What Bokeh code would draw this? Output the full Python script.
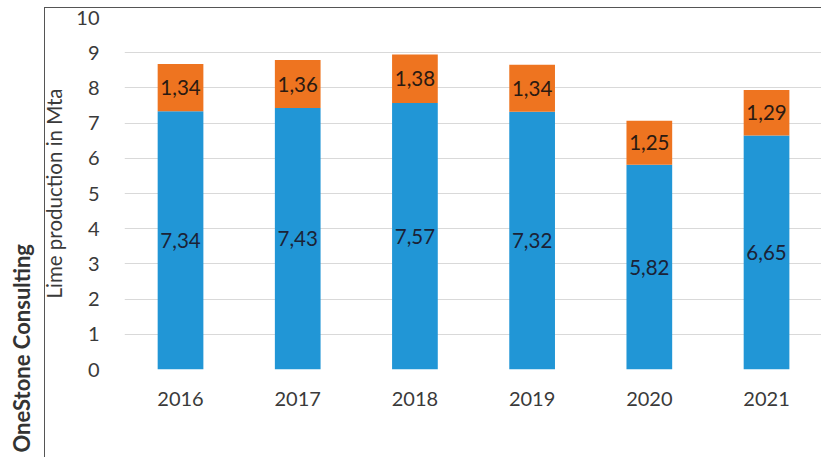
from bokeh.plotting import figure
from bokeh.models import (ColumnDataSource, FixedTicker, Title, InlineStyleSheet,
                          Legend, LegendItem, Range1d)
from bokeh.core.properties import value
from bokeh.embed import file_html
from bokeh.resources import INLINE

# Lime production in Germany, million tonnes per year
years = ["2016", "2017", "2018", "2019", "2020", "2021"]
quicklime = [7.34, 7.43, 7.57, 7.32, 5.82, 6.65]
hydrated_lime = [1.34, 1.36, 1.38, 1.34, 1.25, 1.29]
y_ticks = [0, 1, 2, 3, 4, 5, 6, 7, 8, 9, 10]

FONT = "Lato"
BLUE = "#2196d6"
ORANGE = "#ee7420"
TEXT = "#3a3a3a"


def fmt(v):
    return f"{v:.2f}".replace(".", ",")


x = list(range(len(years)))
src = ColumnDataSource(dict(
    x=x,
    q=quicklime,
    h=hydrated_lime,
    top=[q + h for q, h in zip(quicklime, hydrated_lime)],
    q_mid=[q / 2 for q in quicklime],
    h_mid=[q + h / 2 for q, h in zip(quicklime, hydrated_lime)],
    q_lab=[fmt(v) for v in quicklime],
    h_lab=[fmt(v) for v in hydrated_lime],
))

p = figure(frame_width=697, frame_height=352, height=457,
           output_backend="svg", toolbar_location=None,
           x_range=Range1d(-0.478, 5.469), y_range=Range1d(0, 10),
           min_border_left=121, min_border_right=0,
           min_border_top=17, min_border_bottom=0)
p.outline_line_color = None
p.background_fill_color = "white"
p.border_fill_color = "white"

BAR_W = 0.39
r_q = p.vbar(x="x", width=BAR_W, bottom=0, top="q", source=src,
             fill_color=BLUE, line_color=None)
r_h = p.vbar(x="x", width=BAR_W, bottom="q", top="top", source=src,
             fill_color=ORANGE, line_color=None)

for ycol, tcol, col in (("q_mid", "q_lab", "#1b2236"), ("h_mid", "h_lab", "#2a1a12")):
    p.text(x="x", y=ycol, text=tcol, source=src, text_align="center",
           text_baseline="middle", text_font=value(FONT),
           text_font_size="20.5px", text_color=col)

# axes
p.xaxis.axis_label = None
p.xaxis.ticker = FixedTicker(ticks=x)
p.xaxis.major_label_overrides = {i: y for i, y in enumerate(years)}
p.xaxis.axis_line_color = None
p.xaxis.major_tick_line_color = None
p.xaxis.minor_tick_line_color = None
p.xaxis.major_label_text_font = FONT
p.xaxis.major_label_text_font_size = "20px"
p.xaxis.major_label_text_color = TEXT
p.xaxis.major_label_standoff = 16

p.yaxis.ticker = FixedTicker(ticks=y_ticks)
p.yaxis.axis_line_color = None
p.yaxis.major_tick_line_color = None
p.yaxis.minor_tick_line_color = None
p.yaxis.major_label_text_font = FONT
p.yaxis.major_label_text_font_size = "20px"
p.yaxis.major_label_text_color = TEXT
p.yaxis.major_label_standoff = 19
p.yaxis.axis_label = "Lime production in Mta"
p.yaxis.axis_label_text_font = FONT
p.yaxis.axis_label_text_font_size = "20.5px"
p.yaxis.axis_label_text_font_style = "normal"
p.yaxis.axis_label_text_color = TEXT
p.yaxis.axis_label_standoff = 7

p.xgrid.grid_line_color = None
p.ygrid.ticker = FixedTicker(ticks=y_ticks)
p.ygrid.grid_line_color = "#d9d9d9"
p.ygrid.grid_line_width = 1

# legend under the year labels
legend = Legend(items=[LegendItem(label="Quicklime", renderers=[r_q]),
                       LegendItem(label="Hydrated lime", renderers=[r_h])],
                orientation="horizontal", location=(167, 0),
                label_text_font=FONT, label_text_font_size="21px",
                label_text_color=TEXT, glyph_width=12, glyph_height=12,
                spacing=24, padding=12, margin=0, border_line_color=None,
                background_fill_alpha=0)
p.add_layout(legend, "below")

# source note, outside the chart box
p.add_layout(Title(text="OneStone Consulting", align="left", offset=-83,
                   text_font=FONT, text_font_size="22px",
                   text_font_style="bold", text_color="#333333"), "left")

# thin box around the chart area
p.stylesheets = [InlineStyleSheet(css="""
:host { position: relative; }
:host::after {
  content: ""; position: absolute; pointer-events: none;
  left: 44px; top: 7px; right: 0px; bottom: 1px;
  border: 1.5px solid #555555; border-right: none;
}
""")]

open("out.html", "w").write(file_html(p, INLINE))
